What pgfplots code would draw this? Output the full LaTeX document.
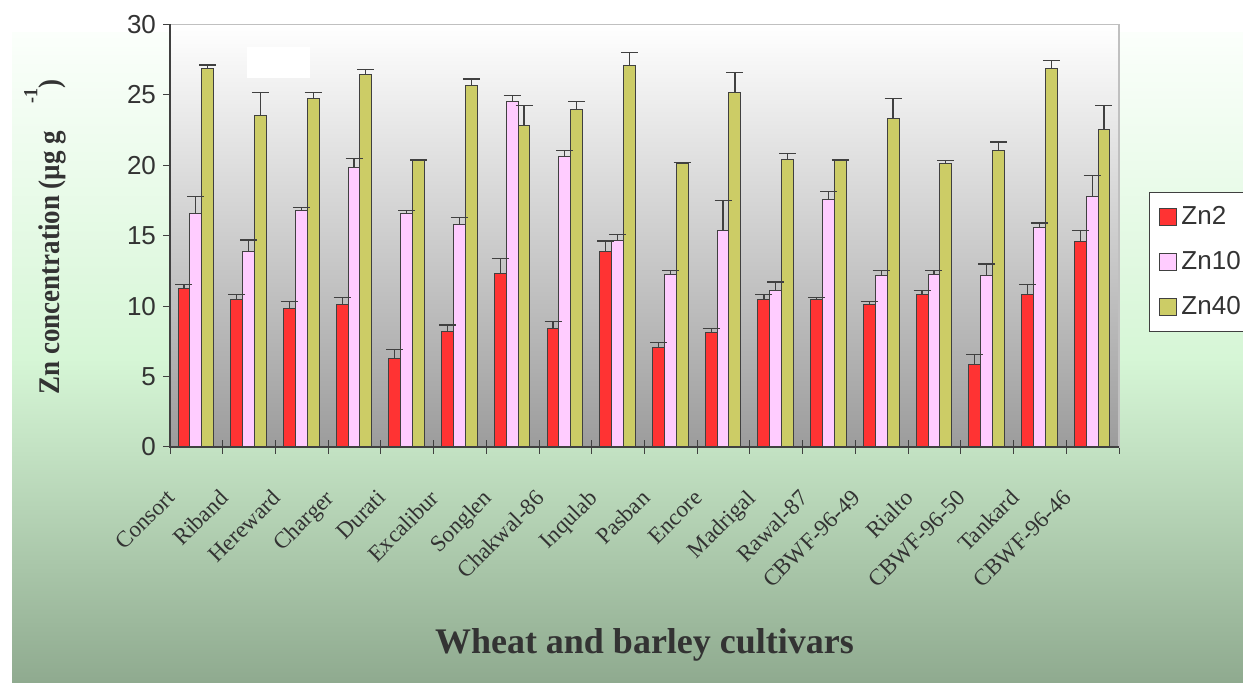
\documentclass[border=0pt]{standalone}
\usepackage{pgfplots}
\usepackage{pgfplotstable}
\pgfplotsset{compat=1.18}
\usepackage{fontspec}
\setmainfont{Liberation Serif}
\newfontfamily\arialf{Liberation Sans}
\newfontfamily\ylabf[FakeStretch=0.9]{Liberation Serif}
\definecolor{cZnA}{RGB}{255,51,51}
\definecolor{cZnB}{RGB}{255,204,255}
\definecolor{cZnC}{RGB}{204,204,102}
\definecolor{edge}{RGB}{64,64,64}
\definecolor{txt}{RGB}{51,51,51}
\definecolor{frame}{RGB}{192,192,192}
\definecolor{plotbot}{RGB}{156,156,156}
\definecolor{bgBot}{RGB}{143,170,143}
\definecolor{bgLow}{RGB}{195,226,195}
\definecolor{bgMid}{RGB}{214,246,214}
\definecolor{bgTop}{RGB}{251,255,251}
\pgfdeclareverticalshading{bgshade}{100bp}{color(0bp)=(bgBot); color(25bp)=(bgBot); color(43bp)=(bgLow); color(50bp)=(bgMid); color(75bp)=(bgTop); color(100bp)=(bgTop)}
% x  Zn2  err  Zn10  err  Zn40  err
\pgfplotstableread{
x   zna   ea    znb   eb    znc   ec
0   11.28 0.24  16.58 1.21  26.90 0.21
1   10.50 0.31  13.89 0.80  23.54 1.61
2   9.82  0.49  16.77 0.22  24.72 0.43
3   10.10 0.52  19.85 0.64  26.43 0.37
4   6.25  0.68  16.56 0.21  20.35 0.02
5   8.23  0.43  15.78 0.52  25.69 0.43
6   12.30 1.09  24.53 0.41  22.83 1.40
7   8.42  0.50  20.65 0.40  23.94 0.59
8   13.89 0.73  14.69 0.40  27.11 0.90
9   7.03  0.40  12.28 0.23  20.16 0.03
10  8.11  0.31  15.38 2.10  25.15 1.46
11  10.50 0.31  11.10 0.61  20.44 0.40
12  10.50 0.12  17.55 0.60  20.35 0.03
13  10.10 0.21  12.18 0.33  23.33 1.39
14  10.79 0.33  12.28 0.23  20.16 0.19
15  5.84  0.71  12.18 0.81  21.03 0.62
16  10.79 0.73  15.59 0.31  26.90 0.52
17  14.60 0.78  17.77 1.51  22.55 1.70
}\datatable
\begin{document}
\begin{tikzpicture}[x=1pt,y=1pt]
\useasboundingbox (0,0) rectangle (621.5,341.5);
\fill[shading=bgshade] (6,0) rectangle (621.5,325);
\coordinate (O) at (85,118);
\begin{axis}[
  at={(O)}, anchor=south west, scale only axis,
  width=474.5pt, height=211.3pt,
  xmin=-0.5, xmax=17.5, ymin=0, ymax=30,
  clip=false,
  axis background/.style={top color=white, bottom color=plotbot},
  axis line style={draw=frame, line width=0.6pt},
  tick pos=left,
  tick align=outside,
  ytick={0,5,...,30},
  xtick={0,...,17},
  xticklabels={Consort,Riband,Hereward,Charger,Durati,Excalibur,Songlen,Chakwal-86,Inqulab,Pasban,Encore,Madrigal,Rawal-87,CBWF-96-49,Rialto,CBWF-96-50,Tankard,CBWF-96-46},
  minor xtick={-0.5,0.5,...,17.5},
  major x tick style={draw=none},
  minor x tick style={draw=edge, line width=0.5pt, yshift=3.5pt},
  minor tick length=7pt,
  major tick length=3.5pt,
  y tick style={draw=edge, line width=0.5pt},
  /pgf/number format/assume math mode=true,
  yticklabel style={font=\arialf\fontsize{13}{15}\selectfont, text=txt},
  xticklabel style={font=\fontsize{11.5}{13}\selectfont, text=txt, xshift=-15.5pt, yshift=-17pt, rotate=45, anchor=north east, inner sep=0pt},
  xlabel={Wheat and barley cultivars},
  xlabel style={font=\bfseries\fontsize{18}{20}\selectfont, text=txt, at={(axis description cs:0.5,-0.4875)}, anchor=base},
  legend style={at={(axis description cs:1.0316,0.6034)}, anchor=north west, draw=edge, fill=white, line width=0.5pt,
     inner xsep=5pt, inner ysep=5pt, row sep=8pt, font=\arialf\fontsize{13}{15}\selectfont, text=txt},
  legend cell align=left,
  error bars/error bar style={draw=edge, line width=0.6pt},
  error bars/error mark options={draw=edge, rotate=90, mark size=4.25pt, line width=0.6pt},
]
\fill[white] (axis cs:0.96,26.21) rectangle (axis cs:2.16,28.41);
\addplot[ybar, bar width=0.225, bar shift=-0.235, fill=cZnA, draw=edge, line width=0.5pt,
  legend image code/.code={\draw[fill=cZnA, draw=edge, line width=0.5pt] (0pt,-4.25pt) rectangle (8.5pt,4.25pt);}]
  table[x=x, y=zna] {\datatable};
\addlegendentry{Zn2}
\addplot[ybar, bar width=0.225, bar shift=-0.01, fill=cZnB, draw=edge, line width=0.5pt,
  legend image code/.code={\draw[fill=cZnB, draw=edge, line width=0.5pt] (0pt,-4.25pt) rectangle (8.5pt,4.25pt);}]
  table[x=x, y=znb] {\datatable};
\addlegendentry{Zn10}
\addplot[ybar, bar width=0.225, bar shift=0.215, fill=cZnC, draw=edge, line width=0.5pt,
  legend image code/.code={\draw[fill=cZnC, draw=edge, line width=0.5pt] (0pt,-4.25pt) rectangle (8.5pt,4.25pt);}]
  table[x=x, y=znc] {\datatable};
\addlegendentry{Zn40}
% error bars drawn on top of all bars, at the centre of each bar
\addplot[draw=none, no markers, forget plot, error bars/.cd, y dir=plus, y explicit]
  table[x expr=\thisrow{x}-0.235, y=zna, y error=ea] {\datatable};
\addplot[draw=none, no markers, forget plot, error bars/.cd, y dir=plus, y explicit]
  table[x expr=\thisrow{x}-0.01, y=znb, y error=eb] {\datatable};
\addplot[draw=none, no markers, forget plot, error bars/.cd, y dir=plus, y explicit]
  table[x expr=\thisrow{x}+0.215, y=znc, y error=ec] {\datatable};
\draw[edge, line width=0.6pt] (rel axis cs:0,1) -- (rel axis cs:0,0) -- (rel axis cs:1,0);
\end{axis}
\node[rotate=90, anchor=base west, inner sep=0pt, text=txt, font=\ylabf\bfseries\fontsize{15}{17}\selectfont] at (30,144)
  {Zn concentration (µg g\hspace{0.9em}\raisebox{0.75em}{\fontsize{10}{12}\selectfont -1})};
\end{tikzpicture}
\end{document}
